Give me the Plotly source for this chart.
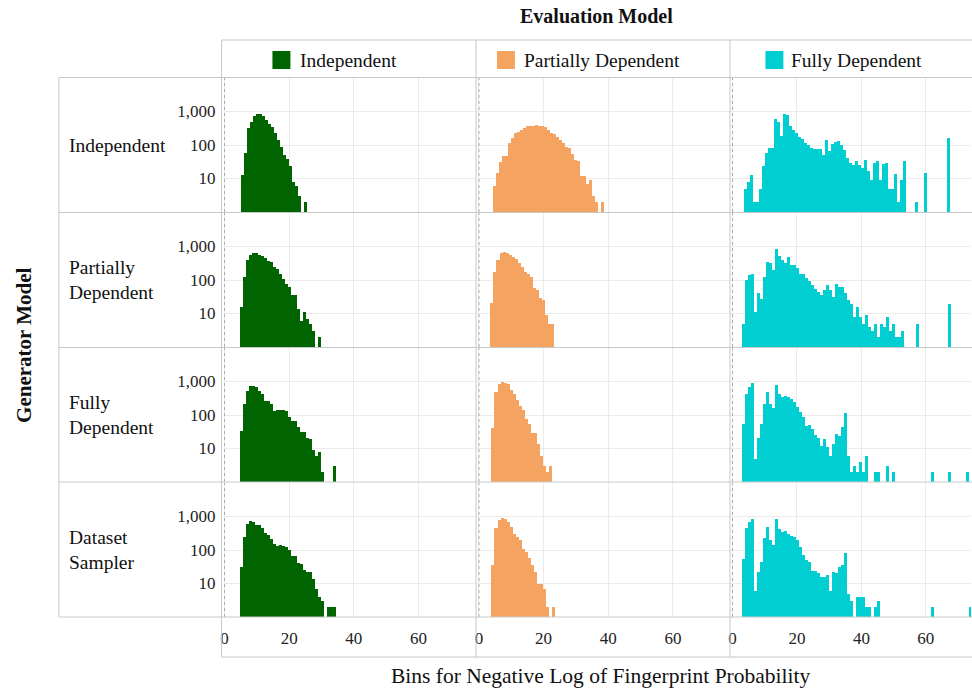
import plotly.graph_objects as go

W, H = 972, 689
BIN_WIDTH = 0.93

generator_labels = ["Independent", "Partially<br>Dependent", "Fully<br>Dependent", "Dataset<br>Sampler"]
evaluator_labels = ["Independent", "Partially Dependent", "Fully Dependent"]
colors = ["#006400", "#F4A460", "#00CED1"]

x_ticks = [0, 20, 40, 60]
y_ticks = [10, 100, 1000]
y_tick_text = ["10", "100", "1,000"]

# first bin left edge per panel (row = generator, col = evaluator)
bin_start = [
    [4.88, 4.20, 3.66],
    [4.57, 3.57, 3.04],
    [4.57, 3.88, 3.04],
    [4.57, 3.88, 3.04],
]

# counts per bin
ind_ind = [13, 57, 318, 503, 710, 830, 814, 740, 564, 428, 340, 226, 143, 90, 51, 38, 23, 8, 6, 3, 0, 2]
ind_part = [6, 15, 32, 48, 48, 113, 160, 231, 242, 284, 333, 373, 373, 382, 391, 382, 357, 349, 284, 236,
            211, 168, 137, 113, 90, 80, 54, 36, 34, 12, 12, 7, 9, 3, 2, 0, 2]
ind_full = [5, 8, 13, 2, 2, 5, 23, 57, 80, 82, 604, 491, 188, 851, 795, 373, 284, 226, 179, 149,
            113, 97, 80, 77, 77, 75, 51, 137, 64, 109, 119, 133, 101, 72, 40, 30, 26, 34, 26, 20,
            36, 17, 9, 29, 34, 9, 27, 29, 5, 5, 14, 2, 9, 34, 0, 0, 0, 2, 0, 0,
            15, 0, 0, 0, 0, 0, 0, 0, 164]

part_ind = [16, 126, 398, 562, 631, 631, 550, 513, 468, 363, 355, 251, 214, 148, 105, 74, 60, 36, 35, 14,
            6, 11, 7, 5, 3, 0, 2]
part_part = [20, 175, 398, 631, 675, 660, 575, 479, 417, 316, 251, 178, 148, 126, 56, 52, 30, 25, 9, 5, 5]
part_full = [5, 100, 141, 150, 11, 40, 28, 126, 339, 316, 200, 832, 513, 398, 331, 479, 282, 275, 229, 148,
             148, 112, 91, 71, 55, 45, 36, 50, 69, 50, 32, 74, 63, 60, 40, 25, 19, 8, 16, 8,
             5, 9, 4, 3, 5, 2, 5, 4, 8, 3, 5, 2, 2, 3, 0, 0, 0, 0, 5, 0,
             0, 0, 0, 0, 0, 0, 0, 0, 0, 19]

full_ind = [34, 213, 537, 759, 724, 676, 537, 427, 269, 257, 214, 129, 138, 138, 141, 129, 85, 68, 65, 45,
            32, 32, 20, 19, 9, 6, 8, 2, 0, 0, 0, 3]
full_part = [40, 479, 851, 955, 891, 851, 562, 427, 275, 191, 141, 74, 54, 30, 30, 14, 6, 3, 2, 3]
full_full = [55, 427, 676, 891, 5, 21, 54, 214, 479, 214, 158, 776, 417, 339, 380, 339, 295, 240, 178, 120,
             85, 48, 50, 38, 26, 21, 12, 19, 11, 6, 14, 27, 24, 43, 112, 6, 2, 3, 2, 4,
             2, 6, 0, 0, 2, 2, 0, 0, 3, 0, 2, 0, 0, 0, 0, 0, 0, 0, 0, 0,
             0, 0, 0, 2, 0, 0, 0, 0, 0, 2, 0, 0, 0, 0, 0, 2]

samp_ind = [32, 251, 589, 759, 708, 562, 562, 447, 316, 282, 214, 151, 135, 138, 135, 120, 100, 68, 68, 40,
            38, 25, 22, 22, 14, 7, 4, 3, 0, 2, 2, 2]
samp_part = [35, 447, 794, 933, 851, 708, 501, 302, 251, 200, 110, 85, 56, 36, 22, 10, 10, 7, 2, 0, 2]
samp_full = [55, 447, 708, 871, 6, 22, 45, 224, 501, 200, 145, 871, 427, 355, 380, 309, 269, 240, 200, 126,
             71, 50, 45, 23, 24, 21, 16, 16, 18, 6, 22, 21, 32, 35, 83, 5, 3, 0, 4, 4,
             4, 2, 2, 0, 2, 3, 0, 0, 0, 0, 0, 0, 0, 0, 0, 0, 0, 0, 0, 0,
             0, 0, 0, 2, 0, 0, 0, 0, 0, 0, 0, 0, 0, 0, 0, 0, 2]

panel_counts = [
    [ind_ind, ind_part, ind_full],
    [part_ind, part_part, part_full],
    [full_ind, full_part, full_full],
    [samp_ind, samp_part, samp_full],
]

FONT = "Liberation Serif"
GRID = "#EBEBEB"
BORDER = "#C8C8C8"
TXT = "#111111"

def px(x):
    return x / W

def py(y):
    return 1 - y / H

col_px = [(221, 474), (476, 729), (730, 971)]
row_px = [(78, 212), (213, 347), (348, 482), (483, 617)]
x_ranges = [[-0.6, 77.5], [-0.6, 77.5], [-0.65, 74.05]]

fig = go.Figure()
layout = {}
shapes = []
annotations = []

for r in range(4):
    for c in range(3):
        idx = r * 3 + c + 1
        xa = "x" if idx == 1 else f"x{idx}"
        ya = "y" if idx == 1 else f"y{idx}"
        counts = panel_counts[r][c]
        start = bin_start[r][c]
        xs = [start + BIN_WIDTH * (i + 0.5) for i in range(len(counts))]
        ys = [v if v > 0 else None for v in counts]
        fig.add_trace(go.Bar(x=xs, y=ys, width=BIN_WIDTH, marker=dict(color=colors[c], line=dict(width=0)),
                             xaxis=xa, yaxis=ya, showlegend=False, hoverinfo="x+y"))
        xk = "xaxis" if idx == 1 else f"xaxis{idx}"
        yk = "yaxis" if idx == 1 else f"yaxis{idx}"
        layout[xk] = dict(domain=[px(col_px[c][0]), px(col_px[c][1])], anchor=ya, range=x_ranges[c],
                          tickvals=x_ticks, showticklabels=(r == 3), showgrid=True, gridcolor=GRID,
                          gridwidth=1, zeroline=False, showline=False, ticks="",
                          tickfont=dict(family=FONT, size=17, color="#222"), ticklabelstandoff=9)
        layout[yk] = dict(domain=[py(row_px[r][1]), py(row_px[r][0])], anchor=xa, type="log", range=[0, 4],
                          tickvals=y_ticks, ticktext=y_tick_text, showticklabels=(c == 0), showgrid=True,
                          gridcolor=GRID, gridwidth=1, zeroline=False, showline=False, ticks="",
                          tickfont=dict(family=FONT, size=17, color="#222"), ticklabelstandoff=6)
        # dotted reference line at x = 0
        shapes.append(dict(type="line", xref=xa, yref=f"{ya} domain", x0=0, x1=0, y0=0, y1=1,
                           line=dict(color="#AAAAAA", width=1, dash="dot"), layer="above"))

def hline(y, x0, x1):
    shapes.append(dict(type="line", xref="paper", yref="paper", x0=px(x0), x1=px(x1), y0=py(y), y1=py(y),
                       line=dict(color=BORDER, width=1)))

def vline(x, y0, y1):
    shapes.append(dict(type="line", xref="paper", yref="paper", x0=px(x), x1=px(x), y0=py(y0), y1=py(y1),
                       line=dict(color=BORDER, width=1)))

hline(40, 220, 972)
for y in [77.5, 212.5, 347.5, 482, 617]:
    hline(y, 57, 972)
hline(657, 220, 972)
vline(57, 77.5, 617)
vline(220, 40, 657)
vline(475, 40, 657)
vline(729.5, 40, 657)

# top strip keys and labels
strip_keys = [(271, "Independent", 297), (496, "Partially Dependent", 521), (765, "Fully Dependent", 789)]
for c, (kx, label, tx) in enumerate(strip_keys):
    shapes.append(dict(type="rect", xref="paper", yref="paper", x0=px(kx), x1=px(kx + 18), y0=py(69), y1=py(51),
                       fillcolor=colors[c], line=dict(width=0)))
    annotations.append(dict(text=evaluator_labels[c], x=px(tx), y=py(60), xref="paper", yref="paper",
                            xanchor="left", yanchor="middle", showarrow=False,
                            font=dict(family=FONT, size=19.5, color=TXT)))

# row strip labels
for r in range(4):
    yc = (row_px[r][0] + row_px[r][1]) / 2
    annotations.append(dict(text=generator_labels[r], x=px(65), y=py(yc), xref="paper", yref="paper",
                            xanchor="left", yanchor="middle", align="left", showarrow=False,
                            font=dict(family=FONT, size=19.5, color=TXT)))

annotations.append(dict(text="<b>Evaluation Model</b>", x=px(596), y=py(16), xref="paper", yref="paper",
                        xanchor="center", yanchor="middle", showarrow=False,
                        font=dict(family=FONT, size=20, color=TXT)))
annotations.append(dict(text="<b>Generator Model</b>", x=px(22), y=py(345), xref="paper", yref="paper",
                        xanchor="center", yanchor="middle", showarrow=False, textangle=-90,
                        font=dict(family=FONT, size=21, color=TXT)))
annotations.append(dict(text="Bins for Negative Log of Fingerprint Probability", x=px(600), y=py(676),
                        xref="paper", yref="paper", xanchor="center", yanchor="middle", showarrow=False,
                        font=dict(family=FONT, size=21.5, color=TXT)))

fig.update_layout(width=W, height=H, margin=dict(l=0, r=0, t=0, b=0), paper_bgcolor="white",
                  plot_bgcolor="white", bargap=0, barmode="overlay", shapes=shapes, annotations=annotations,
                  **layout)

fig.write_html("out.html", config={"displayModeBar": False},
               post_script="document.body.style.margin='0px';document.body.style.overflow='hidden';")
